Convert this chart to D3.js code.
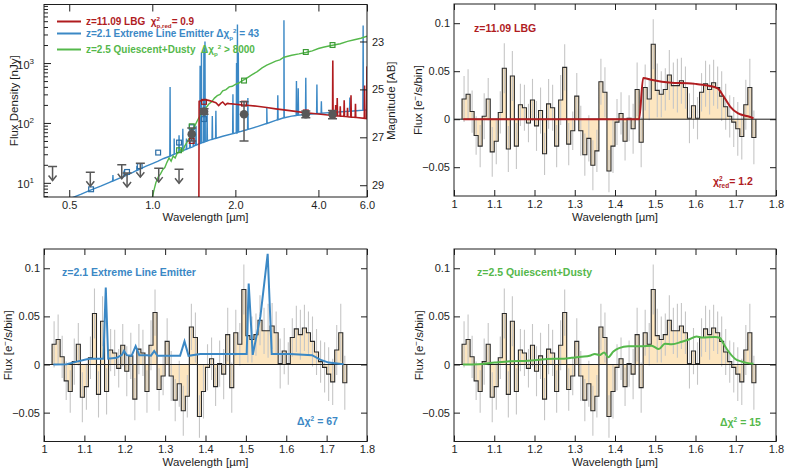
<!DOCTYPE html>
<html>
<head>
<meta charset="utf-8">
<script src="https://cdn.jsdelivr.net/npm/d3@7"></script>
<style>
  body { margin: 0; background: #fff; }
  svg { display: block; }
  text { white-space: pre; }
</style>
</head>
<body>
<svg id="fig" width="789" height="474"></svg>
<script>
// ---------- photometry / SED panel data (wavelength in micron, flux in nJy) ----------
const elgContWave = [0.50, 0.55, 0.60, 0.65, 0.70, 0.75, 0.80, 0.85, 0.90, 0.95, 1.00, 1.05, 1.10, 1.15, 1.20, 1.30, 1.40, 1.48, 1.60, 1.80, 2.00, 2.20, 2.40, 2.60, 2.80, 3.00, 3.20, 3.50, 4.00, 4.50, 5.00, 5.50, 6.00];
const elgContFlux = [5.4, 6.4, 7.6, 8.8, 10.2, 11.6, 13.2, 15.0, 17.0, 19.0, 21.0, 23.0, 25.5, 27.5, 30, 35, 40, 45, 51, 60, 68, 77, 87, 98, 110, 122, 130, 137, 144, 150, 155, 160, 165];
const elgLineWave = [0.72, 0.79, 0.88, 1.16, 1.20, 1.25, 1.29, 1.33, 1.37, 1.41, 1.44, 1.49, 1.507, 1.538, 1.552, 1.58, 1.65, 1.70, 1.96, 2.02, 2.035, 2.05, 2.22, 2.60, 2.85, 3.00, 3.33, 3.38, 3.60, 3.95, 4.10, 5.20, 5.81];
const elgLinePeak = [13.5, 16, 19, 400, 55, 62, 80, 55, 80, 75, 90, 900, 1500, 1800, 2300, 150, 130, 160, 300, 1000, 4400, 1500, 260, 180, 290, 5200, 500, 380, 570, 440, 230, 265, 4250];

const qdContWave = [0.99, 1.01, 1.03, 1.05, 1.07, 1.09, 1.11, 1.13, 1.15, 1.17, 1.19, 1.21, 1.23, 1.25, 1.27, 1.29, 1.31, 1.33, 1.35, 1.37, 1.40, 1.43, 1.46, 1.50, 1.53, 1.56, 1.60, 1.64, 1.68, 1.72, 1.76, 1.80, 1.85, 1.90, 1.95, 2.00, 2.05, 2.10, 2.20, 2.30, 2.40, 2.50, 2.60, 2.70, 2.80, 2.90, 3.00, 3.10, 3.20, 3.40, 3.60, 3.80, 4.00, 4.20, 4.50, 4.80, 5.10, 5.40, 5.70, 6.00];
const qdContFlux = [4.5, 7, 10, 12.5, 14, 16.5, 18, 22, 26, 23, 28, 26, 31, 33, 36, 34, 41, 46, 52, 58, 78, 92, 112, 140, 152, 175, 205, 225, 260, 285, 300, 345, 360, 400, 410, 440, 460, 495, 560, 640, 720, 830, 920, 1000, 1080, 1130, 1250, 1300, 1350, 1420, 1500, 1600, 1750, 1850, 1980, 2100, 2300, 2450, 2600, 2800];

const lbgContWave = [1.474, 1.478, 1.50, 1.55, 1.60, 1.65, 1.70, 1.74, 1.77, 1.80, 1.84, 1.87, 1.90, 2.00, 2.10, 2.20, 2.40, 2.60, 2.80, 3.00, 3.30, 3.60, 4.00, 4.50, 5.00, 5.50, 6.00];
const lbgContFlux = [1, 230, 235, 245, 238, 228, 218, 195, 212, 224, 200, 212, 210, 205, 200, 198, 190, 181, 172, 165, 156, 148, 141, 133, 128, 123, 118];
const lbgLineWave = [4.51, 4.62, 4.68, 4.80, 4.96, 5.10, 5.25, 5.45, 5.88, 5.998];
const lbgLinePeak = [1100, 200, 260, 190, 240, 180, 290, 210, 420, 880];

const elgPhotWave = [0.60, 0.81, 0.90, 1.05, 1.25, 1.39, 1.54];
const elgPhotFlux = [7.8, 15.2, 19, 32, 47, 85, 116];
const qdPhotWave = [1.25, 1.39, 2.15, 3.6, 4.5];
const qdPhotFlux = [35, 88, 510, 1530, 2000];
const lbgPhotWave = [1.39, 1.54, 2.15, 3.6, 4.5];
const lbgPhotFlux = [50, 225, 210, 150, 135];

const obsWave = [1.39, 1.54, 2.15, 3.6, 4.5];
const obsFlux = [65, 155, 140, 140, 140];
const obsLo = [50, 140, 50, 122, 118];
const obsHi = [82, 172, 225, 158, 162];

const limWave = [0.435, 0.596, 0.775, 0.81, 0.905, 1.055, 1.25];
const limFlux = [18.7, 15, 20, 14.6, 21.3, 17.6, 16.8];

const sedXTicks = [0.5, 1, 2, 4, 6];
const sedYTicks = [10, 100, 1000];
const sedYMinor = [6, 7, 8, 9, 20, 30, 40, 50, 60, 70, 80, 90, 200, 300, 400, 500, 600, 700, 800, 900, 2000, 3000, 4000, 5000, 6000, 7000, 8000, 9000];
const magTicks = [23, 25, 27, 29];

// ---------- grism spectrum data (flux in e-/s/bin) ----------
const binWave = [1.025, 1.035, 1.045, 1.055, 1.065, 1.075, 1.085, 1.095, 1.105, 1.115,
  1.125, 1.135, 1.145, 1.155, 1.165, 1.175, 1.185, 1.195, 1.205, 1.215,
  1.225, 1.235, 1.245, 1.255, 1.265, 1.275, 1.285, 1.295, 1.305, 1.315,
  1.325, 1.335, 1.345, 1.355, 1.365, 1.375, 1.385, 1.395, 1.405, 1.415,
  1.425, 1.435, 1.445, 1.455, 1.465, 1.475, 1.485, 1.495, 1.505, 1.515,
  1.525, 1.535, 1.545, 1.555, 1.565, 1.575, 1.585, 1.595, 1.605, 1.615,
  1.625, 1.635, 1.645, 1.655, 1.665, 1.675, 1.685, 1.695, 1.705, 1.715,
  1.725, 1.735, 1.745];
const binFlux = [0.021, 0.026, 0.008, -0.017, -0.028, 0.003, 0.021, -0.034, -0.023, 0.007,
  0.053, -0.031, 0.045, -0.028, 0.015, 0.012, -0.004, 0.020, -0.007, 0.009,
  -0.036, 0.016, 0.012, -0.028, 0.020, 0.054, -0.026, -0.012, 0.024, -0.012,
  -0.037, -0.020, -0.048, -0.033, 0.039, 0.028, -0.054, -0.028, -0.003, 0.006,
  -0.023, 0.001, -0.010, 0.031, -0.024, 0.033, 0.021, 0.078, 0.030, 0.026,
  0.031, 0.046, 0.035, 0.035, 0.040, 0.033, 0.001, 0.014, 0.001, 0.028,
  0.037, 0.031, 0.038, 0.033, 0.024, 0.013, 0.003, -0.003, -0.010, -0.018,
  0.015, 0.033, -0.019];
const binErr = [0.024, 0.026, 0.022, 0.020, 0.022, 0.024, 0.022, 0.026, 0.024, 0.022,
  0.026, 0.024, 0.026, 0.024, 0.022, 0.024, 0.020, 0.022, 0.026, 0.024,
  0.022, 0.026, 0.024, 0.022, 0.026, 0.024, 0.022, 0.020, 0.024, 0.026,
  0.022, 0.024, 0.026, 0.022, 0.024, 0.026, 0.022, 0.028, 0.024, 0.022,
  0.020, 0.024, 0.026, 0.028, 0.026, 0.024, 0.022, 0.026, 0.028, 0.024,
  0.022, 0.026, 0.024, 0.028, 0.024, 0.022, 0.026, 0.024, 0.022, 0.020,
  0.024, 0.026, 0.024, 0.022, 0.026, 0.024, 0.022, 0.026, 0.028, 0.024,
  0.026, 0.030, 0.028];
const binWidth = 0.01;

const lbgModelWave = [1.023, 1.46, 1.47, 1.49, 1.54, 1.58, 1.60, 1.63, 1.655, 1.67, 1.686, 1.706, 1.73, 1.744];
const lbgModelFlux = [0, 0, 0.043, 0.041, 0.038, 0.0375, 0.0368, 0.035, 0.032, 0.0236, 0.0132, 0.006, 0.003, 0.001];
const elgModelWave = [1.023, 1.056, 1.081, 1.106, 1.114, 1.147, 1.153, 1.159, 1.18, 1.193, 1.198, 1.205, 1.217, 1.227, 1.236, 1.255, 1.265, 1.273, 1.281, 1.337, 1.348, 1.358, 1.387, 1.498, 1.502, 1.507, 1.517, 1.536, 1.554, 1.564, 1.61, 1.664, 1.684, 1.705, 1.742];
const elgModelFlux = [0, 0.0003, 0.003, 0.0055, 0.006, 0.006, 0.080, 0.006, 0.007, 0.010, 0.014, 0.0097, 0.009, 0.019, 0.0097, 0.0095, 0.0092, 0.014, 0.009, 0.009, 0.024, 0.009, 0.011, 0.011, 0.011, 0.084, 0.010, 0.050, 0.115, 0.011, 0.011, 0.0097, 0.005, 0.002, 0.0003];
const qdModelWave = [1.022, 1.06, 1.101, 1.143, 1.184, 1.226, 1.25, 1.267, 1.292, 1.317, 1.337, 1.35, 1.362, 1.373, 1.383, 1.396, 1.41, 1.433, 1.466, 1.491, 1.509, 1.524, 1.541, 1.566, 1.582, 1.603, 1.615, 1.648, 1.661, 1.669, 1.682, 1.698, 1.715, 1.744];
const qdModelFlux = [0, 0.0003, 0.002, 0.0035, 0.004, 0.0055, 0.006, 0.006, 0.007, 0.008, 0.009, 0.011, 0.0097, 0.0125, 0.0076, 0.0135, 0.017, 0.019, 0.019, 0.0195, 0.016, 0.0215, 0.021, 0.0236, 0.0257, 0.029, 0.028, 0.0285, 0.0275, 0.022, 0.0135, 0.006, 0.003, 0.0007];

const specXTicks = [1, 1.1, 1.2, 1.3, 1.4, 1.5, 1.6, 1.7, 1.8];
const specYTicks = [-0.05, 0, 0.05, 0.1];

// ---------- styles ----------
const FONT = '"Liberation Sans", Arial, Helvetica, sans-serif';
const INK = "#1e1e1e";
const RED = "#b01c1f";
const BLUE = "#3b88c5";
const GREEN = "#55b84b";
const GREY = "#585858";
const FILL = "#fde6c0";
const AB_ZERO = 31.4;

const svg = d3.select("#fig");
const defs = svg.append("defs");

function clipRect(id, x0, x1, y0, y1) {
  defs.append("clipPath").attr("id", id).append("rect")
    .attr("x", x0).attr("y", y0).attr("width", x1 - x0).attr("height", y1 - y0);
}

function frame(x0, x1, y0, y1) {
  svg.append("rect").attr("x", x0).attr("y", y0).attr("width", x1 - x0).attr("height", y1 - y0)
    .attr("fill", "none").attr("stroke", INK).attr("stroke-width", 1);
}

function styleAxis(sel) {
  sel.attr("font-family", FONT).attr("font-size", 11);
  sel.select(".domain").remove();
  sel.selectAll("line").attr("stroke", INK);
  sel.selectAll("text").attr("fill", INK);
  return sel;
}

// text built of pieces, sup/sub can be stacked over the previous piece
function richText(g, x, y, color, pieces, size) {
  let cx = x, lastX = x;
  pieces.forEach(p => {
    const px = p.stack ? lastX : cx;
    const t = g.append("text").attr("x", px).attr("y", y + (p.dy || 0))
      .attr("font-family", FONT).attr("font-weight", "bold")
      .attr("font-size", p.small ? size * 0.62 : size).attr("fill", color).text(p.t);
    const w = t.node().getComputedTextLength();
    if (p.stack) cx = Math.max(cx, px + w);
    else { lastX = cx; cx = cx + w; }
  });
}

function xTitle(cx, y) {
  svg.append("text").attr("x", cx).attr("y", y).attr("text-anchor", "middle")
    .attr("font-family", FONT).attr("font-size", 11.5).attr("fill", INK)
    .text("Wavelength [\u00b5m]");
}

function fluxTitle(x, cy) {
  const t = svg.append("text").attr("transform", `translate(${x},${cy}) rotate(-90)`)
    .attr("text-anchor", "middle").attr("font-family", FONT).attr("font-size", 11.5).attr("fill", INK);
  t.append("tspan").text("Flux [e");
  t.append("tspan").attr("dy", -4).attr("font-size", 8).text("\u2212");
  t.append("tspan").attr("dy", 4).text("/s/bin]");
}

// ---------- SED panel ----------
const A = { left: 44, right: 367, top: 4.5, bottom: 197 };
const xA = d3.scaleLog().domain([0.405, 6.0]).range([A.left, A.right]);
const yA = d3.scaleLog().domain([5.8, 9500]).range([A.bottom, A.top]);
const magA = d3.scaleLinear()
  .domain([AB_ZERO - 2.5 * Math.log10(5.8), AB_ZERO - 2.5 * Math.log10(9500)])
  .range([A.bottom, A.top]);

function logInterp(ws, fs, w) {
  const i = Math.max(1, Math.min(ws.length - 1, d3.bisectRight(ws, w)));
  const t = (Math.log(w) - Math.log(ws[i - 1])) / (Math.log(ws[i]) - Math.log(ws[i - 1]));
  return Math.exp(Math.log(fs[i - 1]) + t * (Math.log(fs[i]) - Math.log(fs[i - 1])));
}
function withLines(cw, cf, lw, lp) {
  const pts = cw.map((w, i) => [w, cf[i]]);
  lw.forEach((w, i) => {
    const c = logInterp(cw, cf, w);
    pts.push([w / 1.0025, c], [w, lp[i]], [w * 1.0025, c]);
  });
  return pts.sort((a, b) => a[0] - b[0]);
}

clipRect("clipA", A.left, A.right, A.top, A.bottom);
const gA = svg.append("g").attr("clip-path", "url(#clipA)");
const sedLine = d3.line().x(d => xA(d[0])).y(d => yA(Math.max(d[1], 1)));

gA.append("path").datum(withLines(elgContWave, elgContFlux, elgLineWave, elgLinePeak))
  .attr("d", sedLine).attr("fill", "none").attr("stroke", BLUE).attr("stroke-width", 1.4);
gA.append("path").datum(qdContWave.map((w, i) => [w, qdContFlux[i]]))
  .attr("d", sedLine).attr("fill", "none").attr("stroke", GREEN).attr("stroke-width", 1.4);
gA.append("path").datum(withLines(lbgContWave, lbgContFlux, lbgLineWave, lbgLinePeak))
  .attr("d", sedLine).attr("fill", "none").attr("stroke", RED).attr("stroke-width", 1.6);

function squares(ws, fs, color) {
  gA.selectAll(null).data(ws).join("rect")
    .attr("x", d => xA(d) - 2.4).attr("y", (d, i) => yA(fs[i]) - 2.4)
    .attr("width", 4.8).attr("height", 4.8)
    .attr("fill", "none").attr("stroke", color).attr("stroke-width", 1.2);
}
squares(elgPhotWave, elgPhotFlux, "#2c6ea6");
squares(lbgPhotWave, lbgPhotFlux, "#9a1f1f");
squares(qdPhotWave, qdPhotFlux, "#3c9a36");

// measured photometry
gA.selectAll(null).data(obsWave).join("line")
  .attr("x1", d => xA(d)).attr("x2", d => xA(d))
  .attr("y1", (d, i) => yA(obsLo[i])).attr("y2", (d, i) => yA(obsHi[i]))
  .attr("stroke", GREY).attr("stroke-width", 1.5);
[obsLo, obsHi].forEach(arr => {
  gA.selectAll(null).data(obsWave).join("line")
    .attr("x1", d => xA(d) - 4.5).attr("x2", d => xA(d) + 4.5)
    .attr("y1", (d, i) => yA(arr[i])).attr("y2", (d, i) => yA(arr[i]))
    .attr("stroke", GREY).attr("stroke-width", 1.5);
});
gA.selectAll(null).data(obsWave).join("circle")
  .attr("cx", d => xA(d)).attr("cy", (d, i) => yA(obsFlux[i])).attr("r", 4.3)
  .attr("fill", GREY);

// upper limits
const lim = gA.selectAll(null).data(limWave).join("g")
  .attr("transform", (d, i) => `translate(${xA(d)},${yA(limFlux[i])})`)
  .attr("stroke", GREY).attr("stroke-width", 1.5).attr("fill", "none");
lim.append("line").attr("x1", -4.5).attr("x2", 4.5);
lim.append("line").attr("y1", 0).attr("y2", 14);
lim.append("path").attr("d", "M-4,9 L0,14 L4,9");

// axes for SED
styleAxis(svg.append("g").attr("transform", `translate(0,${A.bottom})`)
  .call(d3.axisBottom(xA).tickValues(sedXTicks).tickFormat(d3.format(".1f"))
    .tickSizeInner(-7).tickSizeOuter(0).tickPadding(4)));
styleAxis(svg.append("g").attr("transform", `translate(0,${A.top})`)
  .call(d3.axisTop(xA).tickValues(sedXTicks).tickFormat("").tickSizeInner(-7).tickSizeOuter(0)));
styleAxis(svg.append("g").attr("transform", `translate(${A.left},0)`)
  .call(d3.axisLeft(yA).tickValues(sedYMinor).tickFormat("").tickSizeInner(-4).tickSizeOuter(0)));
const leftMaj = styleAxis(svg.append("g").attr("transform", `translate(${A.left},0)`)
  .call(d3.axisLeft(yA).tickValues(sedYTicks).tickFormat("").tickSizeInner(-7).tickSizeOuter(0)));
leftMaj.selectAll(".tick").each(function (d) {
  const t = d3.select(this).append("text").attr("x", -10).attr("dy", "0.45em")
    .attr("text-anchor", "end").attr("fill", INK).attr("font-size", 11);
  t.append("tspan").text("10");
  t.append("tspan").attr("dy", -5).attr("font-size", 8).text(String(Math.round(Math.log10(d))));
});
styleAxis(svg.append("g").attr("transform", `translate(${A.right},0)`)
  .call(d3.axisRight(magA).tickValues(magTicks).tickSizeInner(-7).tickSizeOuter(0).tickPadding(5)));
frame(A.left, A.right, A.top, A.bottom);

svg.append("text").attr("transform", `translate(18,${(A.top + A.bottom) / 2}) rotate(-90)`)
  .attr("text-anchor", "middle").attr("font-family", FONT).attr("font-size", 11.5).attr("fill", INK)
  .text("Flux Density [nJy]");
svg.append("text").attr("transform", `translate(395,${(A.top + A.bottom) / 2}) rotate(-90)`)
  .attr("text-anchor", "middle").attr("font-family", FONT).attr("font-size", 11.5).attr("fill", INK)
  .text("Magnitude [AB]");
xTitle((A.left + A.right) / 2, 221);

// legend
const leg = svg.append("g");
const legendRows = [
  { y: 21.5, color: RED, pieces: [{ t: "z=11.09 LBG  \u03c7" }, { t: "2", small: true, dy: -4 }, { t: "p,red", small: true, dy: 3, stack: true }, { t: "= 0.9" }] },
  { y: 33.5, color: BLUE, pieces: [{ t: "z=2.1 Extreme Line Emitter \u0394\u03c7" }, { t: "p", small: true, dy: 3 }, { t: "2", small: true, dy: -4 }, { t: " = 43" }] },
  { y: 49.5, color: GREEN, pieces: [{ t: "z=2.5 Quiescent+Dusty  \u0394\u03c7" }, { t: "p", small: true, dy: 3 }, { t: "2", small: true, dy: -4 }, { t: " > 8000" }] }
];
legendRows.forEach(r => {
  leg.append("line").attr("x1", 57).attr("x2", 81).attr("y1", r.y).attr("y2", r.y)
    .attr("stroke", r.color).attr("stroke-width", 2);
  richText(leg, 86, r.y + 3.6, r.color, r.pieces, 10);
});

// ---------- spectrum panels ----------
function spectrumPanel(P, id, mWave, mFlux, color, curve) {
  const x = d3.scaleLinear().domain([1.0, 1.8]).range([P.left, P.right]);
  const y = d3.scaleLinear().domain([-0.08, 0.12]).range([P.bottom, P.top]);
  clipRect(id, P.left, P.right, P.top, P.bottom);
  const g = svg.append("g").attr("clip-path", `url(#${id})`);

  const half = binWidth / 2;
  const pts = [[binWave[0] - half, 0]];
  binWave.forEach((w, i) => { pts.push([w - half, binFlux[i]], [w + half, binFlux[i]]); });
  pts.push([binWave[binWave.length - 1] + half, 0]);

  g.append("path").datum(pts)
    .attr("d", d3.area().x(d => x(d[0])).y0(y(0)).y1(d => y(d[1])))
    .attr("fill", FILL);
  g.selectAll(null).data(binWave).join("line")
    .attr("x1", d => x(d)).attr("x2", d => x(d))
    .attr("y1", (d, i) => y(binFlux[i] - binErr[i])).attr("y2", (d, i) => y(binFlux[i] + binErr[i]))
    .attr("stroke", "#c6c6c6").attr("stroke-width", 1.1);
  g.append("line").attr("x1", P.left).attr("x2", P.right).attr("y1", y(0)).attr("y2", y(0))
    .attr("stroke", INK).attr("stroke-width", 1);
  g.append("path").datum(pts)
    .attr("d", d3.line().x(d => x(d[0])).y(d => y(d[1])))
    .attr("fill", "none").attr("stroke", "#2a2a2a").attr("stroke-width", 1.1);
  g.append("path").datum(mWave.map((w, i) => [w, mFlux[i]]))
    .attr("d", d3.line().x(d => x(d[0])).y(d => y(d[1])).curve(curve))
    .attr("fill", "none").attr("stroke", color).attr("stroke-width", 2);

  styleAxis(svg.append("g").attr("transform", `translate(0,${P.bottom})`)
    .call(d3.axisBottom(x).tickValues(specXTicks).tickFormat(d => d === 1 ? "1" : d3.format(".1f")(d))
      .tickSizeInner(-6).tickSizeOuter(0).tickPadding(4)));
  styleAxis(svg.append("g").attr("transform", `translate(0,${P.top})`)
    .call(d3.axisTop(x).tickValues(specXTicks).tickFormat("").tickSizeInner(-6).tickSizeOuter(0)));
  styleAxis(svg.append("g").attr("transform", `translate(${P.left},0)`)
    .call(d3.axisLeft(y).tickValues(specYTicks)
      .tickFormat(d => d === 0 ? "0" : (d < 0 ? "\u2212" + Math.abs(d) : String(d)))
      .tickSizeInner(-6).tickSizeOuter(0).tickPadding(4)));
  styleAxis(svg.append("g").attr("transform", `translate(${P.right},0)`)
    .call(d3.axisRight(y).tickValues(specYTicks).tickFormat("").tickSizeInner(-6).tickSizeOuter(0)));
  frame(P.left, P.right, P.top, P.bottom);
}

const B = { left: 454, right: 776, top: 4, bottom: 196 };
const C = { left: 44, right: 367, top: 249, bottom: 441.5 };
const D = { left: 454, right: 776, top: 249, bottom: 441.5 };

spectrumPanel(B, "clipB", lbgModelWave, lbgModelFlux, RED, d3.curveMonotoneX);
spectrumPanel(C, "clipC", elgModelWave, elgModelFlux, BLUE, d3.curveLinear);
spectrumPanel(D, "clipD", qdModelWave, qdModelFlux, GREEN, d3.curveMonotoneX);

fluxTitle(422, (B.top + B.bottom) / 2);
fluxTitle(12, (C.top + C.bottom) / 2);
fluxTitle(423, (D.top + D.bottom) / 2);
xTitle((B.left + B.right) / 2, 221);
xTitle((C.left + C.right) / 2, 466);
xTitle((D.left + D.right) / 2, 466);

const notes = svg.append("g");
richText(notes, 474, 32, RED, [{ t: "z=11.09 LBG" }], 10.5);
richText(notes, 713, 185, RED, [{ t: "\u03c7" }, { t: "2", small: true, dy: -4 }, { t: "red", small: true, dy: 3, stack: true }, { t: "= 1.2" }], 10.5);
richText(notes, 62, 275.5, BLUE, [{ t: "z=2.1 Extreme Line Emitter" }], 10.5);
richText(notes, 297, 425, BLUE, [{ t: "\u0394\u03c7" }, { t: "2", small: true, dy: -4 }, { t: " = 67" }], 10.5);
richText(notes, 477, 276, GREEN, [{ t: "z=2.5 Quiescent+Dusty" }], 10.5);
richText(notes, 720, 426, GREEN, [{ t: "\u0394\u03c7" }, { t: "2", small: true, dy: -4 }, { t: " = 15" }], 10.5);
</script>
</body>
</html>
